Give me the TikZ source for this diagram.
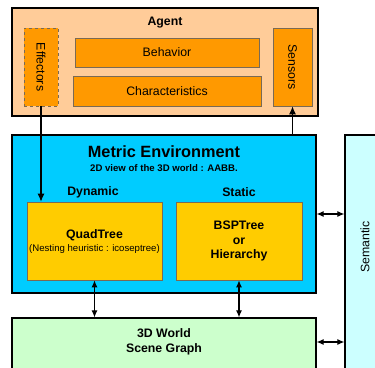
\documentclass[tikz,border=0pt]{standalone}
\usepackage{fontspec}
\setmainfont{Liberation Sans}
\usepackage{tikz}
\usetikzlibrary{arrows.meta, positioning, calc}
\usepackage{xcolor}
\definecolor{agentbg}{HTML}{FFCC99}
\definecolor{agentpart}{HTML}{FF9900}
\definecolor{metricbg}{HTML}{00CCFF}
\definecolor{treebg}{HTML}{FFCC00}
\definecolor{worldbg}{HTML}{CCFFCC}
\definecolor{semanticbg}{HTML}{CCFFFF}
\definecolor{partline}{HTML}{7A6A55}

\tikzset{
    mainbox/.style={draw=black, line width=1.2pt, inner sep=0pt},
    partbox/.style={draw=partline, line width=0.7pt, fill=agentpart, inner sep=0pt},
    treebox/.style={draw=partline, line width=0.7pt, fill=treebg, inner sep=0pt, align=center},
    link/.style={line width=1.1pt, -{Latex[length=8pt,width=7pt]}},
    duallink/.style={line width=1.1pt, {Latex[length=7pt,width=6pt]}-{Latex[length=7pt,width=6pt]}},
    lbl/.style={font=\fontsize{12.3}{14.5}\selectfont, align=center, inner sep=0pt},
    blbl/.style={font=\fontsize{12.3}{14.5}\selectfont\bfseries, align=center, inner sep=0pt}
}

\begin{document}
\begin{tikzpicture}[x=1pt, y=-1pt]
    \useasboundingbox (0,0) rectangle (375,367);
    \clip (0,0) rectangle (375,367);

    % agent
    \node[mainbox, fill=agentbg, minimum width=306pt, minimum height=108pt] (agent) at (165,62) {};
    \node[blbl] (agenttitle) at (165,23) {Agent};
    \node[partbox, dashed, minimum width=34pt, minimum height=78pt] (effectors) at (41,67) {};
    \node[lbl, rotate=-90] at (effectors) {Effectors};
    \node[partbox, minimum width=184pt, minimum height=29pt, lbl] (behavior) at (167,52.5) {Behavior};
    \node[partbox, minimum width=188pt, minimum height=30pt, lbl] (characteristics) at (167,91) {Characteristics};
    \node[partbox, minimum width=39pt, minimum height=78pt] (sensors) at (292.5,67) {};
    \node[lbl, rotate=-90] at (sensors) {Sensors};

    % metric environment
    \node[mainbox, fill=metricbg, minimum width=304pt, minimum height=158pt] (metric) at (164,214) {};
    \node[font=\fontsize{16.3}{19}\selectfont\bfseries, inner sep=0pt] (metrictitle) at (164,152) {Metric Environment};
    \node[font=\fontsize{9.6}{11}\selectfont\bfseries, inner sep=0pt] (metricsub) at (164,168) {2D view of the 3D world : AABB.};
    \node[blbl] (dynamic) at (93,192) {Dynamic};
    \node[blbl] (static) at (239,192) {Static};
    \node[treebox, minimum width=135pt, minimum height=78pt] (quadtree) at (94.5,241) {};
    \node[blbl] at (94.5,235) {QuadTree};
    \node[font=\fontsize{9.6}{11}\selectfont, inner sep=0pt] at (94.5,249) {(Nesting heuristic : icoseptree)};
    \node[treebox, minimum width=126pt, minimum height=78pt, blbl] (bsptree) at (239,241) {BSPTree\\or\\Hierarchy};

    % world and semantic
    \node[mainbox, fill=worldbg, minimum width=304pt, minimum height=60pt] (world) at (164,348) {};
    \node[blbl] (worldtxt) at (164,342) {3D World\\Scene Graph};
    \node[mainbox, fill=semanticbg, minimum width=44pt, minimum height=250pt] (semantic) at (367,260) {};
    \node[lbl, rotate=90] (semantictxt) at (365,247) {Semantic};

    % connectors
    \draw[link] (effectors.south) -- (effectors.south |- quadtree.north);
    \draw[link] (sensors.south |- metric.north) -- (sensors.south);
    \draw[duallink] (quadtree.south) -- (quadtree.south |- world.north);
    \draw[duallink] (bsptree.south) -- (bsptree.south |- world.north);
    \draw[duallink] (metric.east) -- (metric.east -| semantic.west);
    \draw[duallink] (world.east |- worldtxt) -- (semantic.west |- worldtxt);
\end{tikzpicture}
\end{document}
